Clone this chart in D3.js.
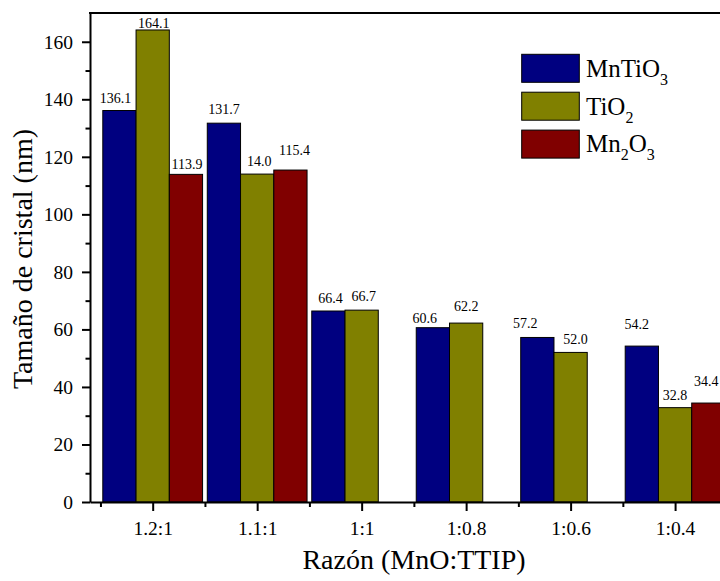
<!DOCTYPE html>
<html>
<head>
<meta charset="utf-8">
<script src="https://cdn.jsdelivr.net/npm/d3@7"></script>
<style>
  body { margin: 0; background: #fff; }
  svg text { font-family: "Liberation Serif", "Times New Roman", Times, serif; fill: #000; }
</style>
</head>
<body>
<script>
// data
var categories = ["1.2:1", "1.1:1", "1:1", "1:0.8", "1:0.6", "1:0.4"];
var mnTiO3 = [136.1, 131.7, 66.4, 60.6, 57.2, 54.2];
var tiO2 = [164.1, 114.0, 66.7, 62.2, 52.0, 32.8];
var mn2O3 = [113.9, 115.4, null, null, null, 34.4];
// printed labels (the 1.1:1 TiO2 label reads "14.0" in the original)
var mnTiO3Labels = ["136.1", "131.7", "66.4", "60.6", "57.2", "54.2"];
var tiO2Labels = ["164.1", "14.0", "66.7", "62.2", "52.0", "32.8"];
var mn2O3Labels = ["113.9", "115.4", null, null, null, "34.4"];
var yTicks = [0, 20, 40, 60, 80, 100, 120, 140, 160];

// hand placement of the value labels: [dx, gap above bar]
var nudges = [
  [[-4, 8], [0, 9], [2, 8], [-8, 5], [-12, 9], [-5, 17]],
  [[1, 2], [2, 8], [2, 9], [0, 12], [5, 8], [0, 8]],
  [[1, 5], [4, 15], null, null, null, [-2, 17]]
];

var series = [
  {name: "MnTiO", sub: "3", values: mnTiO3, labels: mnTiO3Labels, color: "#000080"},
  {name: "TiO", sub: "2", values: tiO2, labels: tiO2Labels, color: "#808000"},
  {name: "Mn", sub: "2", tail: "O", sub2: "3", values: mn2O3, labels: mn2O3Labels, color: "#800000"}
];

var W = 720, H = 581;
var plotLeft = 90, plotTop = 13, plotBottom = 502;
var step = 104.48;
var serif = "'Liberation Serif', 'Times New Roman', Times, serif";

var svg = d3.select("body").append("svg")
  .attr("width", W)
  .attr("height", H);

var x = d3.scaleLinear()
  .domain([-0.6, 5.6])
  .range([plotLeft, plotLeft + 6.2 * step]);

var y = d3.scaleLinear()
  .domain([0, 170])
  .range([plotBottom, plotTop]);

var barW = step * 0.3183;

// bars
series.forEach(function(s, j) {
  var g = svg.append("g").attr("class", "series");
  var rows = s.values.map(function(v, i) { return {i: i, v: v, label: s.labels[i], nudge: nudges[j][i]}; })
    .filter(function(d) { return d.v != null; });

  g.selectAll("rect")
    .data(rows)
    .enter()
    .append("rect")
    .attr("x", function(d) { return x(d.i) - 1.5 * barW + j * barW; })
    .attr("y", function(d) { return y(d.v); })
    .attr("width", barW)
    .attr("height", function(d) { return y(0) - y(d.v); })
    .attr("fill", s.color)
    .attr("stroke", "#000")
    .attr("stroke-width", 1);

  g.selectAll("text")
    .data(rows)
    .enter()
    .append("text")
    .attr("x", function(d) { return x(d.i) - barW + j * barW + d.nudge[0]; })
    .attr("y", function(d) { return y(d.v) - d.nudge[1]; })
    .attr("text-anchor", "middle")
    .attr("font-size", 14)
    .text(function(d) { return d.label; });
});

// y axis
svg.append("g")
  .attr("transform", "translate(" + plotLeft + ",0)")
  .call(d3.axisLeft(y).tickValues(yTicks).tickSize(8).tickPadding(9).tickSizeOuter(0));
svg.append("g")
  .attr("transform", "translate(" + plotLeft + ",0)")
  .call(d3.axisLeft(y).tickValues(d3.range(10, 160, 20)).tickSize(4.5).tickFormat("").tickSizeOuter(0))
  .select(".domain").remove();

// x axis
svg.append("g")
  .attr("transform", "translate(0," + plotBottom + ")")
  .call(d3.axisBottom(x).tickValues(d3.range(0, 6)).tickSize(9).tickPadding(10).tickSizeOuter(0)
    .tickFormat(function(i) { return categories[i]; }));
svg.append("g")
  .attr("transform", "translate(0," + plotBottom + ")")
  .call(d3.axisBottom(x).tickValues(d3.range(-0.5, 6, 1)).tickSize(5).tickFormat("").tickSizeOuter(0))
  .select(".domain").remove();

svg.selectAll(".tick text").attr("font-size", 19.5);
svg.selectAll(".domain, .tick line").attr("stroke", "#000").attr("stroke-width", 2);

// top and right frame lines
svg.append("line")
  .attr("x1", plotLeft - 1).attr("x2", x(5.6))
  .attr("y1", plotTop).attr("y2", plotTop)
  .attr("stroke", "#000").attr("stroke-width", 2);
svg.append("line")
  .attr("x1", x(5.6)).attr("x2", x(5.6))
  .attr("y1", plotTop).attr("y2", plotBottom)
  .attr("stroke", "#000").attr("stroke-width", 2);

// axis titles
svg.append("text")
  .attr("transform", "translate(32,259) rotate(-90)")
  .attr("text-anchor", "middle")
  .attr("font-size", 28)
  .text("Tamaño de cristal (nm)");

svg.append("text")
  .attr("x", 414)
  .attr("y", 569)
  .attr("text-anchor", "middle")
  .attr("font-size", 28)
  .text("Razón (MnO:TTIP)");

// legend
var legend = svg.append("g").attr("transform", "translate(521.7,54.3)");
series.forEach(function(s, j) {
  var row = legend.append("g").attr("transform", "translate(0," + (j * 37.9) + ")");
  row.append("rect")
    .attr("width", 57.6)
    .attr("height", 28)
    .attr("fill", s.color)
    .attr("stroke", "#000")
    .attr("stroke-width", 1);
  var t = row.append("text")
    .attr("x", 64.3)
    .attr("y", 22.4)
    .attr("font-size", 25);
  t.append("tspan").text(s.name);
  t.append("tspan").attr("dy", 8).attr("font-size", 16).text(s.sub);
  if (s.tail) {
    t.append("tspan").attr("dy", -8).text(s.tail);
    t.append("tspan").attr("dy", 8).attr("font-size", 16).text(s.sub2);
  }
});

svg.selectAll("g").attr("font-family", serif);
svg.selectAll("text").style("font-family", serif).attr("fill", "#000");
</script>
</body>
</html>
